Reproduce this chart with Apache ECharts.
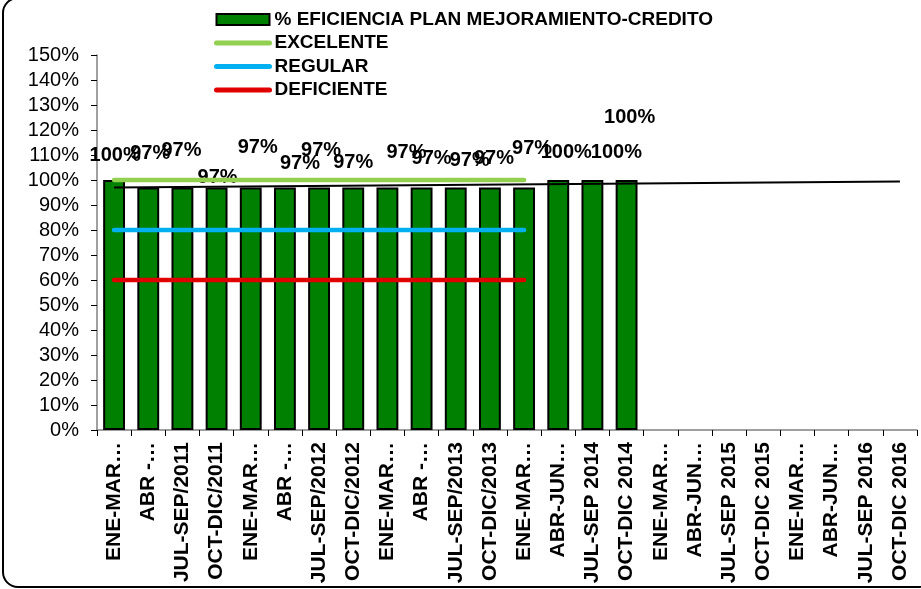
<!DOCTYPE html>
<html>
<head>
<meta charset="utf-8">
<script src="https://cdn.jsdelivr.net/npm/echarts@6/dist/echarts.min.js"></script>
<style>
  html, body { margin: 0; padding: 0; background: #fff; }
  #chart { width: 921px; height: 589px; }
</style>
</head>
<body>
<div id="chart"></div>
<script>
// categorias (como se ven en el eje, las truncadas quedan con ...)
const categorias = [
    'ENE-MAR…', 'ABR -…', 'JUL-SEP/2011', 'OCT-DIC/2011',
    'ENE-MAR…', 'ABR -…', 'JUL-SEP/2012', 'OCT-DIC/2012',
    'ENE-MAR…', 'ABR -…', 'JUL-SEP/2013', 'OCT-DIC/2013',
    'ENE-MAR…', 'ABR-JUN…', 'JUL-SEP 2014', 'OCT-DIC 2014',
    'ENE-MAR…', 'ABR-JUN…', 'JUL-SEP 2015', 'OCT-DIC 2015',
    'ENE-MAR…', 'ABR-JUN…', 'JUL-SEP 2016', 'OCT-DIC 2016'
];
const eficiencia = [100, 97, 97, 97, 97, 97, 97, 97, 97, 97, 97, 97, 97, 100, 100, 100];
const excelente = [100, 100, 100, 100, 100, 100, 100, 100, 100, 100, 100, 100, 100];
const regular = [80, 80, 80, 80, 80, 80, 80, 80, 80, 80, 80, 80, 80];
const deficiente = [60, 60, 60, 60, 60, 60, 60, 60, 60, 60, 60, 60, 60];
// linea de tendencia (inicio y fin)
const tendencia = [97.0, null, null, null, null, null, null, null, null, null, null, null,
    null, null, null, null, null, null, null, null, null, null, null, 99.4];
const ticksY = { min: 0, max: 150, paso: 10 };

// desplazamiento de cada etiqueta (en excel quedaron movidas a mano)
const desplazEtiq = [[1, -11], [2, -20], [-1, -23], [1, 4], [7, -26], [15, -10], [2, -23], [0, -11],
    [19, -21], [10, -15], [14, -13], [4, -15], [8, -25], [8, -14], [24, -14], [3, -49]];

const fuente = '"Liberation Sans", Arial, sans-serif';

let myChart = echarts.init(document.getElementById('chart'), null, { renderer: 'canvas' });

function lineaRef(nombre, datos, color) {
    return {
        name: nombre,
        type: 'line',
        data: datos,
        symbol: 'none',
        z: 4,
        lineStyle: { color: color, width: 4.5, cap: 'round' },
        itemStyle: { color: color },
        silent: true
    };
}

function leyendaLinea(nombre, color) {
    return {
        name: nombre,
        itemStyle: { opacity: 0 },
        lineStyle: { color: color, width: 5, cap: 'round' }
    };
}

myChart.setOption({
    animation: false,
    textStyle: { fontFamily: fuente },
    graphic: [{
        type: 'rect',
        shape: { x: 3, y: -2, width: 930, height: 589, r: 15 },
        style: { fill: 'none', stroke: '#000', lineWidth: 2 },
        z: 100,
        silent: true
    }],
    legend: {
        orient: 'vertical',
        left: 209,
        top: 5,
        itemWidth: 53,
        itemHeight: 11,
        itemGap: 4.5,
        selectedMode: false,
        textStyle: {
            fontFamily: fuente,
            fontSize: 19,
            fontWeight: 'bold',
            color: '#000',
            lineHeight: 19
        },
        data: [
            { name: '% EFICIENCIA PLAN MEJORAMIENTO-CREDITO', icon: 'rect' },
            leyendaLinea('EXCELENTE', '#92D050'),
            leyendaLinea('REGULAR', '#00B0F0'),
            leyendaLinea('DEFICIENTE', '#E00000')
        ]
    },
    grid: {
        left: 97,
        right: 4,
        top: 55,
        bottom: 159,
        containLabel: false
    },
    xAxis: {
        type: 'category',
        data: categorias,
        boundaryGap: true,
        axisLine: { lineStyle: { color: '#808080', width: 1.5 } },
        axisTick: { show: true, alignWithLabel: false, length: 6, lineStyle: { color: '#000' } },
        axisLabel: {
            interval: 0,
            rotate: 90,
            margin: 12,
            fontFamily: fuente,
            fontSize: 21,
            fontWeight: 'bold',
            color: '#000'
        },
        splitLine: { show: false }
    },
    yAxis: {
        type: 'value',
        min: ticksY.min,
        max: ticksY.max,
        interval: ticksY.paso,
        axisLine: { show: true, lineStyle: { color: '#808080', width: 1.5 } },
        axisTick: { show: true, length: 6, lineStyle: { color: '#000' } },
        axisLabel: {
            formatter: '{value}%',
            margin: 18,
            fontFamily: fuente,
            fontSize: 20,
            color: '#000'
        },
        splitLine: { show: false }
    },
    series: [
        {
            name: '% EFICIENCIA PLAN MEJORAMIENTO-CREDITO',
            type: 'bar',
            barWidth: '64%',
            z: 2,
            itemStyle: { color: '#008000', borderColor: '#000', borderWidth: 2 },
            data: eficiencia.map((v, i) => ({
                value: v,
                label: { offset: desplazEtiq[i] }
            })),
            label: {
                show: true,
                position: 'top',
                distance: 4,
                formatter: '{c}%',
                fontFamily: fuente,
                fontSize: 20,
                fontWeight: 'bold',
                color: '#000'
            }
        },
        lineaRef('EXCELENTE', excelente, '#92D050'),
        lineaRef('REGULAR', regular, '#00B0F0'),
        lineaRef('DEFICIENTE', deficiente, '#E00000'),
        {
            name: 'tendencia',
            type: 'line',
            data: tendencia,
            connectNulls: true,
            symbol: 'none',
            z: 5,
            silent: true,
            lineStyle: { color: '#000', width: 2 }
        }
    ]
});
</script>
</body>
</html>
